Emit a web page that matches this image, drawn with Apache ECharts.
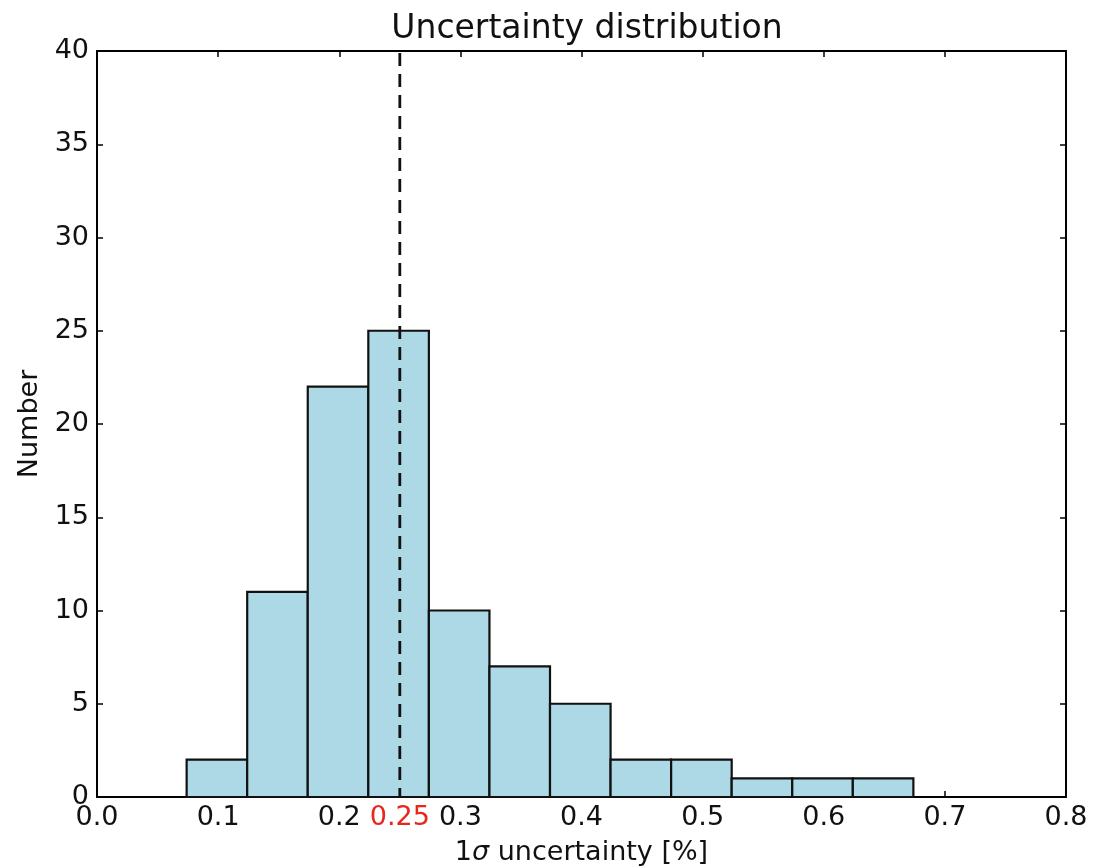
<!DOCTYPE html>
<html>
<head>
<meta charset="utf-8">
<script src="https://cdn.jsdelivr.net/npm/echarts@6/dist/echarts.min.js"></script>
<style>html,body{margin:0;padding:0;background:#fff}#c{width:1103px;height:868px}</style>
</head>
<body>
<div id="c"></div>
<script>
const binEdges = [0.074,0.124,0.174,0.224,0.274,0.324,0.374,0.424,0.474,0.524,0.574,0.624,0.674];
const counts = [2,11,22,25,10,7,5,2,2,1,1,1];
const xTickValues = [0,0.1,0.2,0.3,0.4,0.5,0.6,0.7,0.8];
const xLabelValues = [0,0.1,0.2,0.25,0.3,0.4,0.5,0.6,0.7,0.8];
const markerValue = 0.25;
const yTickValues = [0,5,10,15,20,25,30,35,40];

const bins = counts.map((c,i)=>[binEdges[i], binEdges[i+1], c]);
const font = 'DejaVu Sans';
const chart = echarts.init(document.getElementById('c'));
const tickStyle = {inside:true, length:6, lineStyle:{color:'#000', width:1.5}};
const lineStyle = {color:'#000', width:2};
chart.setOption({
  animation:false,
  backgroundColor:'#fff',
  textStyle:{fontFamily:font},
  title:{text:'Uncertainty distribution', left:582, textAlign:'center', top:8,
    textStyle:{fontFamily:font, fontSize:33, fontWeight:'normal', color:'#111'}},
  grid:{left:97, right:37, top:51, bottom:71, containLabel:false, outerBoundsMode:'none'},
  xAxis:[{
    type:'value', min:0, max:0.8, position:'bottom',
    axisLine:{show:true, onZero:false, lineStyle},
    axisTick:Object.assign({customValues:xTickValues}, tickStyle),
    splitLine:{show:false},
    axisLabel:{customValues:xLabelValues, fontSize:27, color:'#111', margin:7, fontFamily:font,
      formatter:v=> Math.abs(v-markerValue)<1e-9 ? '{r|0.25}' : v.toFixed(1),
      rich:{r:{color:'#e8261c', fontSize:27, fontFamily:font}}},
    name:'{a|1}{s|σ}{a| uncertainty [%]}', nameLocation:'middle', nameGap:42,
    nameTextStyle:{rich:{a:{fontSize:27, color:'#111', fontFamily:font}, s:{fontSize:27, color:'#111', fontStyle:'italic', fontFamily:font}}}
  },{
    type:'value', min:0, max:0.8, position:'top',
    axisLine:{show:true, onZero:false, lineStyle},
    axisTick:Object.assign({customValues:xTickValues}, tickStyle),
    axisLabel:{show:false}, splitLine:{show:false}
  }],
  yAxis:[{
    type:'value', min:0, max:40, interval:5, position:'left',
    axisLine:{show:true, onZero:false, lineStyle},
    axisTick:Object.assign({customValues:yTickValues}, tickStyle),
    splitLine:{show:false},
    axisLabel:{fontSize:27, color:'#111', margin:8, fontFamily:font},
    name:'Number', nameLocation:'middle', nameGap:52,
    nameTextStyle:{fontSize:27, color:'#111', fontFamily:font}
  },{
    type:'value', min:0, max:40, interval:5, position:'right',
    axisLine:{show:true, onZero:false, lineStyle},
    axisTick:Object.assign({customValues:yTickValues}, tickStyle),
    axisLabel:{show:false}, splitLine:{show:false}
  }],
  series:[{
    type:'custom', xAxisIndex:0, yAxisIndex:0,
    data:bins,
    renderItem:(params, api)=>{
      const s = api.coord([api.value(0), api.value(2)]);
      const e = api.coord([api.value(1), 0]);
      return {type:'rect', shape:{x:s[0], y:s[1], width:e[0]-s[0], height:e[1]-s[1]},
        style:{fill:'#add8e6', stroke:'#111', lineWidth:2.2}};
    },
    z:2
  },{
    type:'line', xAxisIndex:0, yAxisIndex:0,
    data:[[markerValue,0],[markerValue,40]],
    symbol:'none',
    lineStyle:{color:'#111', width:2.8, type:[13,8], dashOffset:4},
    z:3
  }]
});
</script>
</body>
</html>
